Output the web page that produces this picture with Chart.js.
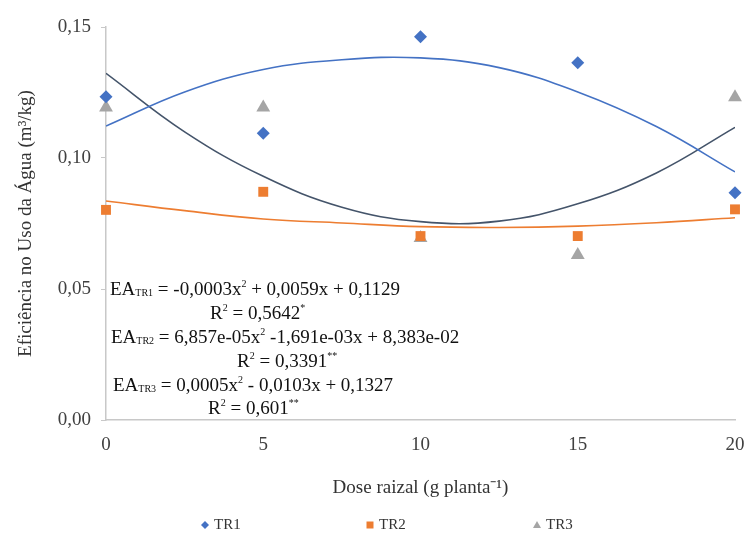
<!DOCTYPE html>
<html>
<head>
<meta charset="utf-8">
<script src="https://cdn.jsdelivr.net/npm/chart.js@4.4.1/dist/chart.umd.min.js"></script>
<style>
  html, body { margin: 0; padding: 0; background: #fff; }
</style>
</head>
<body>
<canvas id="chart" width="750" height="535"></canvas>
<script>
// Doses (x) and observed values per treatment
const doses = [0, 5, 10, 15, 20];
const tr1 = [0.1234, 0.1094, 0.1463, 0.1364, 0.0867];
const tr2 = [0.0802, 0.0871, 0.0702, 0.0702, 0.0804];
const tr3 = [0.1193, 0.1193, 0.0695, 0.0630, 0.1232];

// Trend curves, every 2.5 g
const trendX = [0, 2.5, 5, 7.5, 10, 12.5, 15, 17.5, 20];
const trend1 = [0.1122, 0.1252, 0.1338, 0.1375, 0.1382, 0.1345, 0.1252, 0.1120, 0.0947];
const trend2 = [0.0836, 0.0799, 0.0767, 0.0752, 0.0738, 0.0735, 0.0740, 0.0753, 0.0772];
const trend3 = [0.1323, 0.1100, 0.0930, 0.0812, 0.0757, 0.0759, 0.0825, 0.0943, 0.1117];

const yTicks = [0, 0.05, 0.10, 0.15];
const xTicks = [0, 5, 10, 15, 20];

const BLUE = '#4472C4';
const ORANGE = '#ED7D31';
const GRAY = '#A5A5A5';
const NAVY = '#44546A';
const SERIF = "'Liberation Serif', 'Times New Roman', serif";

function pts(xs, ys) {
  return xs.map((x, i) => ({ x: x, y: ys[i] }));
}

// equation box lines: [text, mode] with mode n / sub / sup
const eqLines = [
  { x: 110, y: 290, parts: [['EA', 'n'], ['TR1', 'sub'], [' = -0,0003x', 'n'], ['2', 'sup'], [' + 0,0059x + 0,1129', 'n']] },
  { x: 210, y: 314, parts: [['R', 'n'], ['2', 'sup'], [' = 0,5642', 'n'], ['*', 'sup']] },
  { x: 111, y: 338, parts: [['EA', 'n'], ['TR2', 'sub'], [' = 6,857e-05x', 'n'], ['2', 'sup'], [' -1,691e-03x + 8,383e-02', 'n']] },
  { x: 237, y: 362, parts: [['R', 'n'], ['2', 'sup'], [' = 0,3391', 'n'], ['**', 'sup']] },
  { x: 113, y: 386, parts: [['EA', 'n'], ['TR3', 'sub'], [' = 0,0005x', 'n'], ['2', 'sup'], [' - 0,0103x + 0,1327', 'n']] },
  { x: 208, y: 409, parts: [['R', 'n'], ['2', 'sup'], [' = 0,601', 'n'], ['**', 'sup']] }
];

const equationPlugin = {
  id: 'equations',
  afterDatasetsDraw(chart) {
    const ctx = chart.ctx;
    ctx.save();
    ctx.fillStyle = '#111';
    ctx.textBaseline = 'middle';
    ctx.textAlign = 'left';
    eqLines.forEach(line => {
      let x = line.x;
      line.parts.forEach(([txt, mode]) => {
        let dy = 0;
        if (mode === 'n') {
          ctx.font = '19px ' + SERIF;
        } else {
          ctx.font = '10px ' + SERIF;
          dy = mode === 'sub' ? 3 : -6;
        }
        ctx.fillText(txt, x, line.y + dy);
        x += ctx.measureText(txt).width;
      });
    });
    ctx.restore();
  }
};

// legend drawn by hand so the items can sit far apart like the original
const legendItems = [
  { label: 'TR1', color: BLUE, shape: 'diamond', x: 205 },
  { label: 'TR2', color: ORANGE, shape: 'square', x: 370 },
  { label: 'TR3', color: GRAY, shape: 'triangle', x: 537 }
];

const legendPlugin = {
  id: 'farLegend',
  afterDraw(chart) {
    const ctx = chart.ctx;
    const y = 525;
    ctx.save();
    legendItems.forEach(it => {
      ctx.fillStyle = it.color;
      ctx.beginPath();
      if (it.shape === 'diamond') {
        ctx.moveTo(it.x, y - 4); ctx.lineTo(it.x + 4, y); ctx.lineTo(it.x, y + 4); ctx.lineTo(it.x - 4, y);
      } else if (it.shape === 'square') {
        ctx.rect(it.x - 3.5, y - 3.5, 7, 7);
      } else {
        ctx.moveTo(it.x, y - 4); ctx.lineTo(it.x + 4, y + 3); ctx.lineTo(it.x - 4, y + 3);
      }
      ctx.closePath();
      ctx.fill();
      ctx.fillStyle = '#333';
      ctx.font = '15px ' + SERIF;
      ctx.textBaseline = 'middle';
      ctx.fillText(it.label, it.x + 9, y);
    });
    ctx.restore();
  }
};

new Chart(document.getElementById('chart').getContext('2d'), {
  type: 'scatter',
  data: {
    datasets: [
      { label: 'TR1 trend', data: pts(trendX, trend1), showLine: true, borderColor: BLUE, borderWidth: 1.6, pointRadius: 0, tension: 0.4, fill: false },
      { label: 'TR2 trend', data: pts(trendX, trend2), showLine: true, borderColor: ORANGE, borderWidth: 1.6, pointRadius: 0, tension: 0.4, fill: false },
      { label: 'TR3 trend', data: pts(trendX, trend3), showLine: true, borderColor: NAVY, borderWidth: 1.6, pointRadius: 0, tension: 0.4, fill: false },
      { label: 'TR1', data: pts(doses, tr1), pointStyle: 'rectRot', pointRadius: 6.5, backgroundColor: BLUE, borderColor: BLUE, borderWidth: 0, clip: false },
      { label: 'TR2', data: pts(doses, tr2), pointStyle: 'rect', pointRadius: 7, backgroundColor: ORANGE, borderColor: ORANGE, borderWidth: 0, clip: false },
      { label: 'TR3', data: pts(doses, tr3), pointStyle: 'triangle', pointRadius: 8, backgroundColor: GRAY, borderColor: GRAY, borderWidth: 0, clip: false }
    ]
  },
  options: {
    responsive: false,
    animation: false,
    layout: { padding: { left: 0, right: 0, top: 27, bottom: 0 } },
    plugins: {
      legend: { display: false },
      tooltip: { enabled: false }
    },
    scales: {
      x: {
        type: 'linear',
        min: 0,
        max: 20,
        afterBuildTicks(scale) { scale.ticks = xTicks.map(v => ({ value: v })); },
        afterFit(scale) {
          scale.height = 115;
          scale.paddingLeft = 0;
          scale.paddingRight = 15;
        },
        grid: { display: false, drawTicks: false },
        border: { display: true, color: '#C8C8C8', width: 1.5 },
        ticks: { color: '#404040', font: { family: SERIF, size: 19 }, padding: 14, maxRotation: 0 },
        title: { display: true, text: 'Dose raizal (g planta\u207B\u00B9)', color: '#333', font: { family: SERIF, size: 19 }, padding: { top: 0, bottom: 36 } }
      },
      y: {
        min: 0,
        max: 0.15,
        afterBuildTicks(scale) { scale.ticks = yTicks.map(v => ({ value: v })); },
        afterFit(scale) { scale.width = 106; },
        grid: { drawOnChartArea: false, drawTicks: true, tickLength: 5, color: '#C8C8C8' },
        border: { display: true, color: '#C8C8C8', width: 1.5 },
        ticks: {
          color: '#404040',
          font: { family: SERIF, size: 19 },
          padding: 10,
          callback: v => v.toFixed(2).replace('.', ',')
        },
        title: { display: true, text: 'Eficiência no Uso da Água (m³/kg)', color: '#333', font: { family: SERIF, size: 19 }, padding: { top: 15, bottom: 0 } }
      }
    }
  },
  plugins: [equationPlugin, legendPlugin]
});
</script>
</body>
</html>
